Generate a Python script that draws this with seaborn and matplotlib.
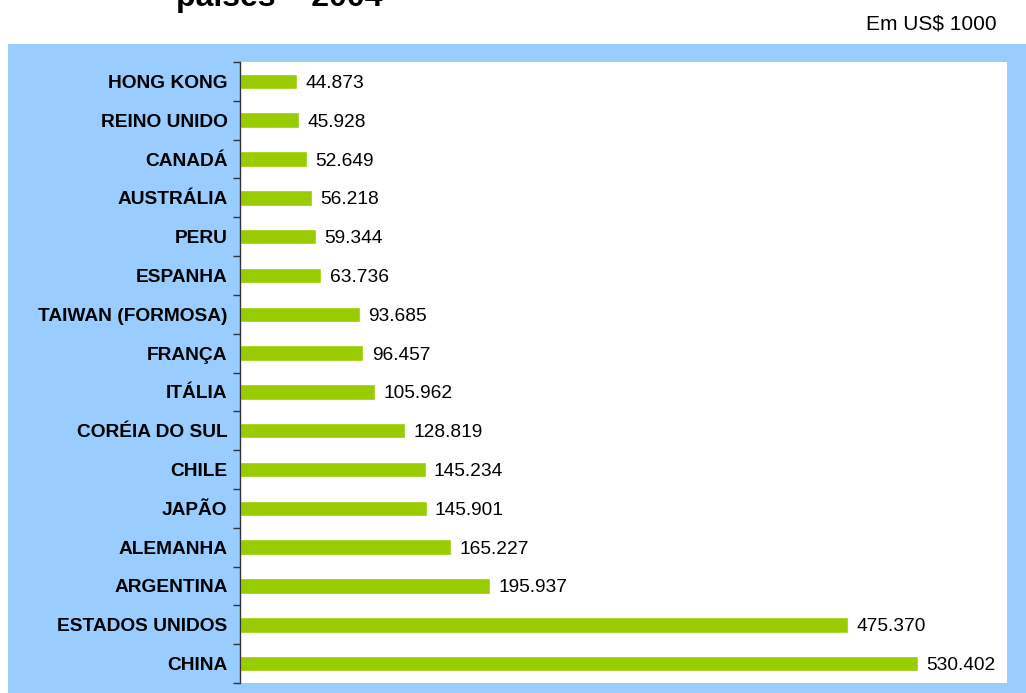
import matplotlib
matplotlib.use("Agg")
import matplotlib.pyplot as plt
import matplotlib.patches as mpatches
import seaborn as sns
import pandas as pd
import numpy as np

countries = ["HONG KONG", "REINO UNIDO", "CANADÁ", "AUSTRÁLIA", "PERU", "ESPANHA",
             "TAIWAN (FORMOSA)", "FRANÇA", "ITÁLIA", "CORÉIA DO SUL", "CHILE", "JAPÃO",
             "ALEMANHA", "ARGENTINA", "ESTADOS UNIDOS", "CHINA"]
values = [44873, 45928, 52649, 56218, 59344, 63736, 93685, 96457, 105962, 128819,
          145234, 145901, 165227, 195937, 475370, 530402]
title_text = "países – 2004"
unit_text = "Em US$ 1000"

sns.set_theme(style="white")
plt.rcParams["font.family"] = ["Liberation Sans", "DejaVu Sans"]

df = pd.DataFrame({"pais": countries, "valor": values})

W, H = 1026, 693
fig = plt.figure(figsize=(W / 100, H / 100), dpi=100, facecolor="white")

# blue background panel
fig.patches.append(mpatches.Rectangle((8 / W, 0), 1 - 8 / W, (H - 44) / H,
                                      transform=fig.transFigure, facecolor="#99CCFF",
                                      edgecolor="none", zorder=-5))

ax = fig.add_axes([240 / W, (H - 683) / H, (1007 - 240) / W, (683 - 62) / H])
ax.set_zorder(2)
ax.set_facecolor("white")

sns.barplot(data=df, x="valor", y="pais", order=countries, orient="h",
            color="#99CC00", width=0.4, saturation=1, ax=ax)

ax.set_xlim(0, 600000)
ax.set_ylim(len(countries) - 0.5, -0.5)
ax.set_xlabel("")
ax.set_ylabel("")
ax.set_xticks([])

for s in ["top", "right", "bottom"]:
    ax.spines[s].set_visible(False)
ax.spines["left"].set_color("#333333")
ax.spines["left"].set_linewidth(1.0)

ax.set_yticks(range(len(countries)))
ax.set_yticklabels(countries, fontsize=13.8, fontweight="bold", color="black")
ax.tick_params(axis="y", which="major", length=0, pad=9)
ax.set_yticks(np.arange(-0.5, len(countries), 1.0), minor=True)
ax.tick_params(axis="y", which="minor", left=True, length=5, width=1, color="#333333",
               direction="out")

for i, v in enumerate(values):
    lab = f"{v:,}".replace(",", ".")
    ax.annotate(lab, xy=(v, i), xytext=(6, 0), textcoords="offset points",
                va="center_baseline", ha="left", fontsize=13.8, color="black")

fig.text(997 / W, 1 - 24 / H, unit_text, ha="right", va="center", fontsize=15,
         color="black")
fig.text(176 / W, 1 - 6 / H, title_text, ha="left", va="baseline", fontsize=23,
         fontweight="bold", color="black")

fig.savefig("out.png", dpi=100, facecolor="white")
